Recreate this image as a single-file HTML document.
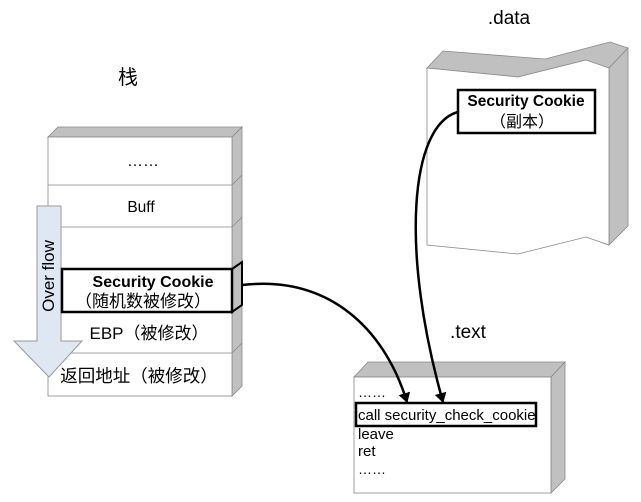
<!DOCTYPE html>
<html><head><meta charset="utf-8"><style>
html,body{margin:0;padding:0;background:#fff;}
svg{display:block;}
text{font-family:"Liberation Sans","Noto Sans CJK SC",sans-serif;fill:#000;}
</style></head><body>
<svg width="641" height="502" viewBox="0 0 641 502" xmlns="http://www.w3.org/2000/svg">
<defs>
<marker id="ah" markerWidth="10" markerHeight="12" refX="9" refY="6" orient="auto" markerUnits="userSpaceOnUse">
<path d="M0,0 L10,6 L0,12 Z" fill="#000"/>
</marker>
</defs>
<text x="128" y="84" font-size="20" text-anchor="middle">栈</text>
<text x="509" y="24" font-size="19" text-anchor="middle">.data</text>
<text x="468" y="338" font-size="19" text-anchor="middle">.text</text>

<polygon points="48,137 58,127 242,127 232,137" fill="#c0c0c0" stroke="#888" stroke-width="0.8"/>
<polygon points="232,137 242,127 242,386 232,396" fill="#c0c0c0" stroke="#888" stroke-width="0.8"/>
<rect x="48" y="137" width="184" height="259" fill="#fff" stroke="#888" stroke-width="0.8"/>
<g stroke="#888" stroke-width="0.8">
<line x1="48" y1="185" x2="232" y2="185"/><line x1="232" y1="185" x2="242" y2="175"/>
<line x1="48" y1="227" x2="232" y2="227"/><line x1="232" y1="227" x2="242" y2="217"/>
<line x1="48" y1="353" x2="232" y2="353"/><line x1="232" y1="353" x2="242" y2="343"/>
</g>
<text x="143" y="166" font-size="16" text-anchor="middle">……</text>
<text x="141" y="212" font-size="15.5" text-anchor="middle">Buff</text>
<text x="149" y="339" font-size="17" text-anchor="middle">EBP（被修改）</text>
<text x="139" y="382" font-size="17.5" text-anchor="middle">返回地址（被修改）</text>

<polygon points="37,206 61,206 61,341 82,341 49,377 14,341 37,341" fill="#dfe7f3" stroke="#999" stroke-width="1"/>
<text transform="translate(54,276) rotate(-90)" font-size="17" text-anchor="middle">Over flow</text>

<rect x="62" y="269" width="170" height="43" fill="none" stroke="#000" stroke-width="2.5"/>
<polygon points="232,269 242,262 242,305 232,312" fill="none" stroke="#000" stroke-width="2"/>
<text x="153" y="287" font-size="16" font-weight="bold" text-anchor="middle">Security Cookie</text>
<text x="143" y="307" font-size="17" text-anchor="middle">（随机数被修改）</text>

<polygon points="427,68 443,51 545,59 610,42 628,48 609,68 586,60 518,77" fill="#c0c0c0" stroke="#888" stroke-width="0.8"/>
<polygon points="609,68 628,48 628,226 609,245" fill="#c0c0c0" stroke="#888" stroke-width="0.8"/>
<polygon points="427,68 518,77 586,60 609,68 609,245 586,237 518,254 427,245" fill="#fff" stroke="#888" stroke-width="0.8"/>
<rect x="458" y="90" width="137" height="43" fill="#fff" stroke="#000" stroke-width="2.5"/>
<text x="526" y="106" font-size="15.5" font-weight="bold" text-anchor="middle">Security Cookie</text>
<text x="522" y="127" font-size="16" text-anchor="middle">（副本）</text>

<polygon points="354,377 368,362 565,362 551,377" fill="#c0c0c0" stroke="#888" stroke-width="0.8"/>
<polygon points="551,377 565,362 565,479 551,493" fill="#c0c0c0" stroke="#888" stroke-width="0.8"/>
<rect x="354" y="377" width="197" height="116" fill="#fff" stroke="#888" stroke-width="0.8"/>
<rect x="356" y="403" width="180" height="23" fill="none" stroke="#000" stroke-width="2.5"/>
<text x="358" y="397" font-size="14">……</text>
<text x="358" y="420" font-size="15">call security_check_cookie</text>
<text x="358" y="439" font-size="15">leave</text>
<text x="358" y="456" font-size="15">ret</text>
<text x="358" y="474" font-size="14">……</text>

<path d="M242,285 C330,275 385,330 407,402" fill="none" stroke="#000" stroke-width="2.5" marker-end="url(#ah)"/>
<path d="M458,112 C410,125 400,250 443,402" fill="none" stroke="#000" stroke-width="2.5" marker-end="url(#ah)"/>
</svg>
</body></html>
